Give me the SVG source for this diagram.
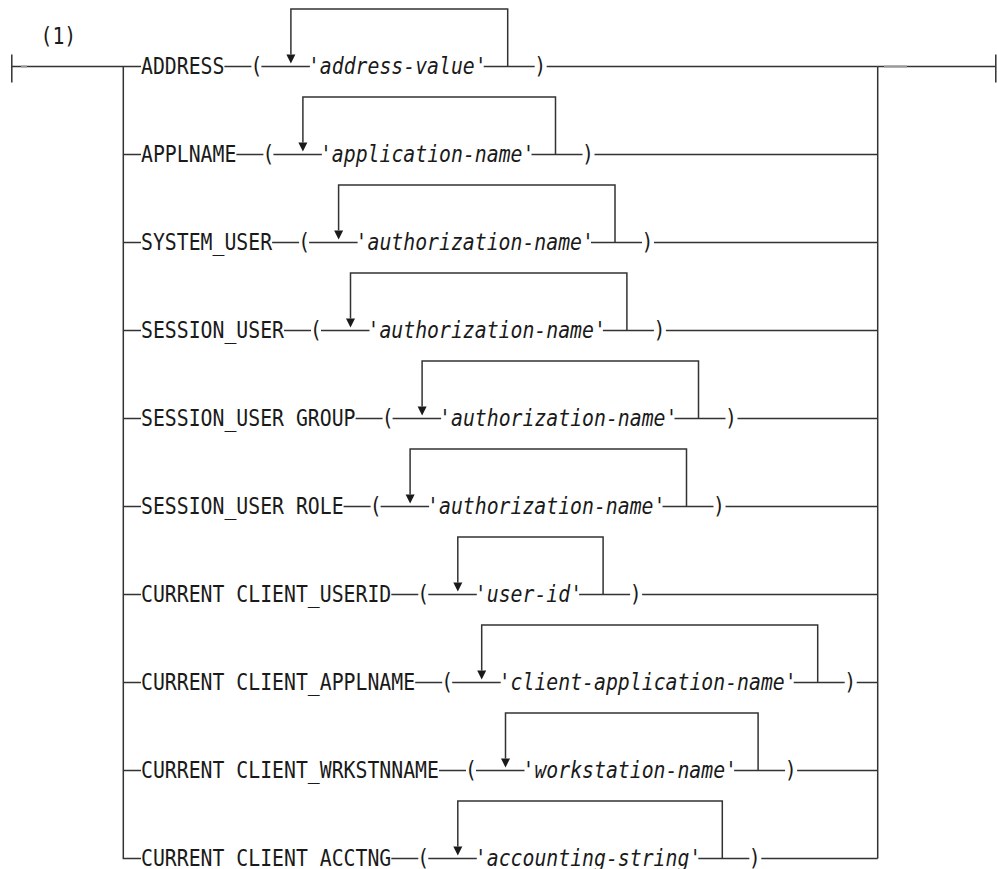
<svg xmlns="http://www.w3.org/2000/svg" xmlns:xlink="http://www.w3.org/1999/xlink" width="997" height="869" viewBox="0 0 997 869">
<style>
.ln{stroke:#333;stroke-width:1.5;fill:none}
.st{stroke:#999;stroke-width:2;fill:none}
.kw{font-family:"DejaVu Sans Mono","Liberation Mono",monospace;font-size:22.5px;fill:#1a1a1a}
.var{font-style:italic}
.pr{text-anchor:middle}
.ar{fill:#1a1a1a}
</style>
<defs>
<path id="arr" d="M-4.5,-12 L4.5,-12 L0,-3 Z"/>
</defs>
<rect width="997" height="869" fill="#fff"/>
<g id="connectors">
<path class="ln" d="M11.8,54.5 V82.5 M11.8,66.5 H141"/>
<path class="st" d="M21,66.5 H27"/>
<path class="ln" d="M123.3,66.5 V858.5 H141"/>
<path class="ln" d="M877.7,66.5 V858.5 M877.7,66.5 H995.8 M995.8,54.5 V82.5"/>
<path class="st" d="M884,66.5 H907"/>
<path class="ln" d="M123.3,154.5 H141 M123.3,242.5 H141 M123.3,330.5 H141 M123.3,418.5 H141 M123.3,506.5 H141 M123.3,594.5 H141 M123.3,682.5 H141 M123.3,770.5 H141"/>
</g>
<text id="note" class="kw" transform="translate(40.5,44) scale(0.88,1)">(1)</text>

<g id="row-address">
<text class="kw" transform="translate(141,74) scale(0.88,1)">ADDRESS</text>
<text class="kw pr" transform="translate(256.4,74) scale(0.88,1)">(</text>
<text class="kw var" transform="translate(307.9,74) scale(0.88,1)">'address-value'</text>
<text class="kw pr" transform="translate(540.2,74) scale(0.88,1)">)</text>
<path class="ln" d="M224.4,66.5 H251.4 M261.4,66.5 H309.9 M483.7,66.5 H534.7 M546.7,66.5 H877.7 M290.9,54.5 V9 H507.7 V66.5"/>
<use xlink:href="#arr" href="#arr" x="290.9" y="66.5" class="ar"/>
</g>

<g id="row-applname">
<text class="kw" transform="translate(141,162) scale(0.88,1)">APPLNAME</text>
<text class="kw pr" transform="translate(268.4,162) scale(0.88,1)">(</text>
<text class="kw var" transform="translate(319.9,162) scale(0.88,1)">'application-name'</text>
<text class="kw pr" transform="translate(588,162) scale(0.88,1)">)</text>
<path class="ln" d="M236.4,154.5 H263.4 M273.4,154.5 H321.9 M531.5,154.5 H582.5 M594.5,154.5 H877.7 M302.9,142.5 V97 H555.5 V154.5"/>
<use xlink:href="#arr" href="#arr" x="302.9" y="154.5" class="ar"/>
</g>

<g id="row-system-user">
<text class="kw" transform="translate(141,250) scale(0.88,1)">SYSTEM_USER</text>
<text class="kw pr" transform="translate(304.1,250) scale(0.88,1)">(</text>
<text class="kw var" transform="translate(355.6,250) scale(0.88,1)">'authorization-name'</text>
<text class="kw pr" transform="translate(647.5,250) scale(0.88,1)">)</text>
<path class="ln" d="M272.1,242.5 H299.1 M309.1,242.5 H357.6 M591,242.5 H642 M654,242.5 H877.7 M338.6,230.5 V185 H615 V242.5"/>
<use xlink:href="#arr" href="#arr" x="338.6" y="242.5" class="ar"/>
</g>

<g id="row-session-user">
<text class="kw" transform="translate(141,338) scale(0.88,1)">SESSION_USER</text>
<text class="kw pr" transform="translate(316,338) scale(0.88,1)">(</text>
<text class="kw var" transform="translate(367.5,338) scale(0.88,1)">'authorization-name'</text>
<text class="kw pr" transform="translate(659.4,338) scale(0.88,1)">)</text>
<path class="ln" d="M284,330.5 H311 M321,330.5 H369.5 M602.9,330.5 H653.9 M665.9,330.5 H877.7 M350.5,318.5 V273 H626.9 V330.5"/>
<use xlink:href="#arr" href="#arr" x="350.5" y="330.5" class="ar"/>
</g>

<g id="row-session-user-group">
<text class="kw" transform="translate(141,426) scale(0.88,1)">SESSION_USER GROUP</text>
<text class="kw pr" transform="translate(387.6,426) scale(0.88,1)">(</text>
<text class="kw var" transform="translate(439.1,426) scale(0.88,1)">'authorization-name'</text>
<text class="kw pr" transform="translate(731,426) scale(0.88,1)">)</text>
<path class="ln" d="M355.6,418.5 H382.6 M392.6,418.5 H441.1 M674.5,418.5 H725.5 M737.5,418.5 H877.7 M422.1,406.5 V361 H698.5 V418.5"/>
<use xlink:href="#arr" href="#arr" x="422.1" y="418.5" class="ar"/>
</g>

<g id="row-session-user-role">
<text class="kw" transform="translate(141,514) scale(0.88,1)">SESSION_USER ROLE</text>
<text class="kw pr" transform="translate(375.6,514) scale(0.88,1)">(</text>
<text class="kw var" transform="translate(427.1,514) scale(0.88,1)">'authorization-name'</text>
<text class="kw pr" transform="translate(719,514) scale(0.88,1)">)</text>
<path class="ln" d="M343.6,506.5 H370.6 M380.6,506.5 H429.1 M662.5,506.5 H713.5 M725.5,506.5 H877.7 M410.1,494.5 V449 H686.5 V506.5"/>
<use xlink:href="#arr" href="#arr" x="410.1" y="506.5" class="ar"/>
</g>

<g id="row-client-userid">
<text class="kw" transform="translate(141,602) scale(0.88,1)">CURRENT CLIENT_USERID</text>
<text class="kw pr" transform="translate(423.3,602) scale(0.88,1)">(</text>
<text class="kw var" transform="translate(474.8,602) scale(0.88,1)">'user-id'</text>
<text class="kw pr" transform="translate(635.6,602) scale(0.88,1)">)</text>
<path class="ln" d="M391.3,594.5 H418.3 M428.3,594.5 H476.8 M579.1,594.5 H630.1 M642.1,594.5 H877.7 M457.8,582.5 V537 H603.1 V594.5"/>
<use xlink:href="#arr" href="#arr" x="457.8" y="594.5" class="ar"/>
</g>

<g id="row-client-applname">
<text class="kw" transform="translate(141,690) scale(0.88,1)">CURRENT CLIENT_APPLNAME</text>
<text class="kw pr" transform="translate(447.2,690) scale(0.88,1)">(</text>
<text class="kw var" transform="translate(498.7,690) scale(0.88,1)">'client-application-name'</text>
<text class="kw pr" transform="translate(850.2,690) scale(0.88,1)">)</text>
<path class="ln" d="M415.2,682.5 H442.2 M452.2,682.5 H500.7 M793.7,682.5 H844.7 M856.7,682.5 H877.7 M481.7,670.5 V625 H817.7 V682.5"/>
<use xlink:href="#arr" href="#arr" x="481.7" y="682.5" class="ar"/>
</g>

<g id="row-client-wrkstnname">
<text class="kw" transform="translate(141,778) scale(0.88,1)">CURRENT CLIENT_WRKSTNNAME</text>
<text class="kw pr" transform="translate(471,778) scale(0.88,1)">(</text>
<text class="kw var" transform="translate(522.5,778) scale(0.88,1)">'workstation-name'</text>
<text class="kw pr" transform="translate(790.6,778) scale(0.88,1)">)</text>
<path class="ln" d="M439,770.5 H466 M476,770.5 H524.5 M734.1,770.5 H785.1 M797.1,770.5 H877.7 M505.5,758.5 V713 H758.1 V770.5"/>
<use xlink:href="#arr" href="#arr" x="505.5" y="770.5" class="ar"/>
</g>

<g id="row-client-acctng">
<text class="kw" transform="translate(141,866) scale(0.88,1)">CURRENT CLIENT_ACCTNG</text>
<text class="kw pr" transform="translate(423.3,866) scale(0.88,1)">(</text>
<text class="kw var" transform="translate(474.8,866) scale(0.88,1)">'accounting-string'</text>
<text class="kw pr" transform="translate(754.8,866) scale(0.88,1)">)</text>
<path class="ln" d="M391.3,858.5 H418.3 M428.3,858.5 H476.8 M698.3,858.5 H749.3 M761.3,858.5 H877.7 M457.8,846.5 V801 H722.3 V858.5"/>
<use xlink:href="#arr" href="#arr" x="457.8" y="858.5" class="ar"/>
</g>
</svg>
